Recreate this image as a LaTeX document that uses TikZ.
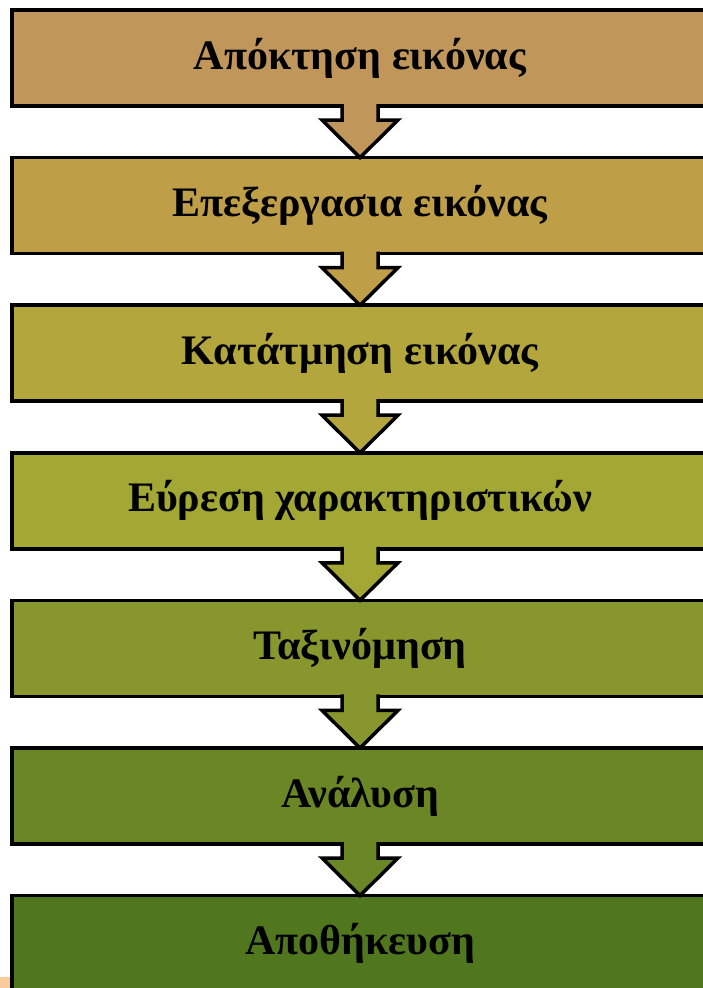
\documentclass[tikz,border=0pt]{standalone}
\usepackage{fontspec}
\setmainfont{Liberation Serif}
\usetikzlibrary{calc}

\definecolor{stepA}{HTML}{C0965B}
\definecolor{stepB}{HTML}{BE9F48}
\definecolor{stepC}{HTML}{B3A63C}
\definecolor{stepD}{HTML}{A3A733}
\definecolor{stepE}{HTML}{87972E}
\definecolor{stepF}{HTML}{6B8624}
\definecolor{stepG}{HTML}{50771E}
\definecolor{patch}{HTML}{F9CB9C}

\tikzset{
  stage/.style = {draw, line width = 3.5pt, outer sep = 0pt, minimum width = 696pt,
                  minimum height = 96pt, font = \fontsize{42}{46}\selectfont\bfseries},
  blockarrow/.style = {draw, line width = 3.5pt, line join = miter}
}

\begin{document}
\begin{tikzpicture}[x = 1pt, y = 1pt]
			\useasboundingbox (0,0) rectangle (703,-988);
			\fill[patch] (0,-977) rectangle (10,-988);
			\node[stage, fill = stepA] (s1) at (360,-58) {Απόκτηση εικόνας};
			\node[stage, fill = stepB] (s2) at (360,-205.6) {Επεξεργασια εικόνας};
			\node[stage, fill = stepC] (s3) at (360,-353.2) {Κατάτμηση εικόνας};
			\node[stage, fill = stepD] (s4) at (360,-500.8) {Εύρεση χαρακτηριστικών};
			\node[stage, fill = stepE] (s5) at (360,-648.4) {Ταξινόμηση};
			\node[stage, fill = stepF] (s6) at (360,-796) {Ανάλυση};
			\node[stage, fill = stepG] (s7) at (360,-943.6) {Αποθήκευση};
			% block arrows between the stages
			\foreach \a/\b/\c in {s1/s2/stepA, s2/s3/stepB, s3/s4/stepC, s4/s5/stepD, s5/s6/stepE, s6/s7/stepF}
			  \draw[blockarrow, fill = \c] ($(\a.south)+(-18,2)$) -- ($(\a.south)+(-18,-14)$)
			    -- ($(\a.south)+(-38,-14)$) -- (\b.north) -- ($(\a.south)+(38,-14)$)
			    -- ($(\a.south)+(18,-14)$) -- ($(\a.south)+(18,2)$);
			\end{tikzpicture}
\end{document}
